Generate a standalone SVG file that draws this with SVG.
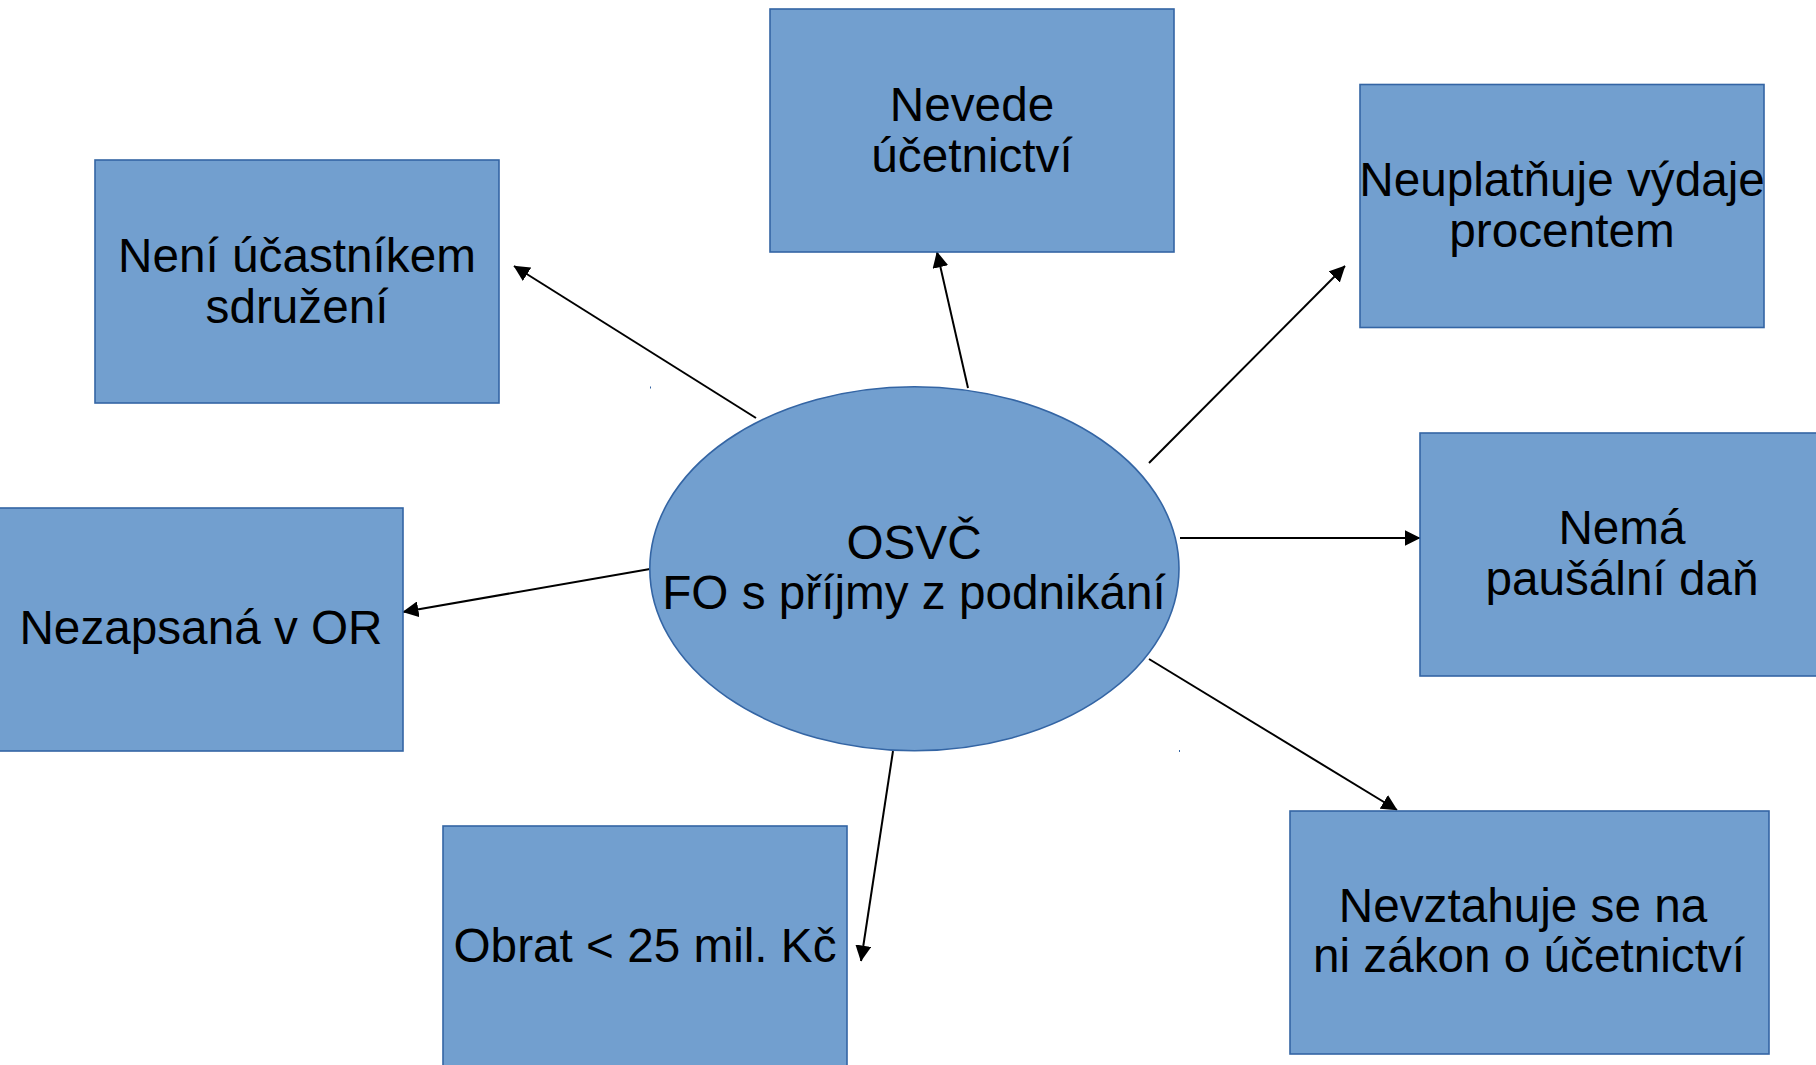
<svg xmlns="http://www.w3.org/2000/svg" width="1816" height="1065" viewBox="0 0 1816 1065">
  <style>
    .box { fill: #729fcf; stroke: #3465a4; stroke-width: 1.6; }
    .lbl { font-family: "Liberation Sans", Arial, sans-serif; font-size: 47.7px; fill: #000000; text-anchor: middle; }
    .conn { stroke: #000000; stroke-width: 2; fill: none; marker-end: url(#arrow); }
    .mark { fill: #3465a4; }
  </style>
  <defs>
    <marker id="arrow" markerUnits="userSpaceOnUse" markerWidth="16" markerHeight="16" viewBox="0 0 15 15" refX="14.5" refY="7.5" orient="auto">
      <path d="M0,0 L15,7.5 L0,15 z" fill="#000000"/>
    </marker>
  </defs>
  <rect width="1816" height="1065" fill="#ffffff"/>

  <g id="connectors">
    <line class="conn" x1="968" y1="388" x2="937" y2="252"/>
    <line class="conn" x1="756" y1="418" x2="514" y2="266"/>
    <line class="conn" x1="1149" y1="463" x2="1345" y2="266"/>
    <line class="conn" x1="1180" y1="538" x2="1420" y2="538"/>
    <line class="conn" x1="650" y1="569" x2="403" y2="612"/>
    <line class="conn" x1="893" y1="751" x2="861" y2="961"/>
    <line class="conn" x1="1149" y1="659" x2="1397" y2="810"/>
  </g>

  <g id="center">
    <ellipse class="box" cx="914.4" cy="568.7" rx="264.6" ry="182"/>
    <text class="lbl" x="914" y="559">OSVČ</text>
    <text class="lbl" x="914" y="609">FO s příjmy z podnikání</text>
    <rect class="mark" x="650" y="386.5" width="1" height="2"/>
    <rect class="mark" x="1179" y="750" width="1" height="2"/>
  </g>

  <g id="node-neni">
    <rect class="box" x="95" y="160" width="404" height="243"/>
    <text class="lbl" x="297" y="272">Není účastníkem</text>
    <text class="lbl" x="297" y="323">sdružení</text>
  </g>

  <g id="node-nevede">
    <rect class="box" x="770" y="9" width="404" height="243"/>
    <text class="lbl" x="972" y="121">Nevede</text>
    <text class="lbl" x="972" y="172">účetnictví</text>
  </g>

  <g id="node-neuplatnuje">
    <rect class="box" x="1360" y="84.5" width="404" height="243"/>
    <text class="lbl" x="1562" y="196">Neuplatňuje výdaje</text>
    <text class="lbl" x="1562" y="247">procentem</text>
  </g>

  <g id="node-nema">
    <rect class="box" x="1420" y="433" width="404" height="243"/>
    <text class="lbl" x="1622" y="544">Nemá</text>
    <text class="lbl" x="1622" y="595">paušální daň</text>
  </g>

  <g id="node-nezapsana">
    <rect class="box" x="-1" y="508" width="404" height="243"/>
    <text class="lbl" x="201" y="644">Nezapsaná v OR</text>
  </g>

  <g id="node-obrat">
    <rect class="box" x="443" y="826" width="404" height="243"/>
    <text class="lbl" x="645" y="962">Obrat &lt; 25 mil. Kč</text>
  </g>

  <g id="node-nevztahuje">
    <rect class="box" x="1290" y="811" width="479" height="243"/>
    <text class="lbl" x="1523" y="922">Nevztahuje se na</text>
    <text class="lbl" x="1529" y="972">ni zákon o účetnictví</text>
  </g>
</svg>
